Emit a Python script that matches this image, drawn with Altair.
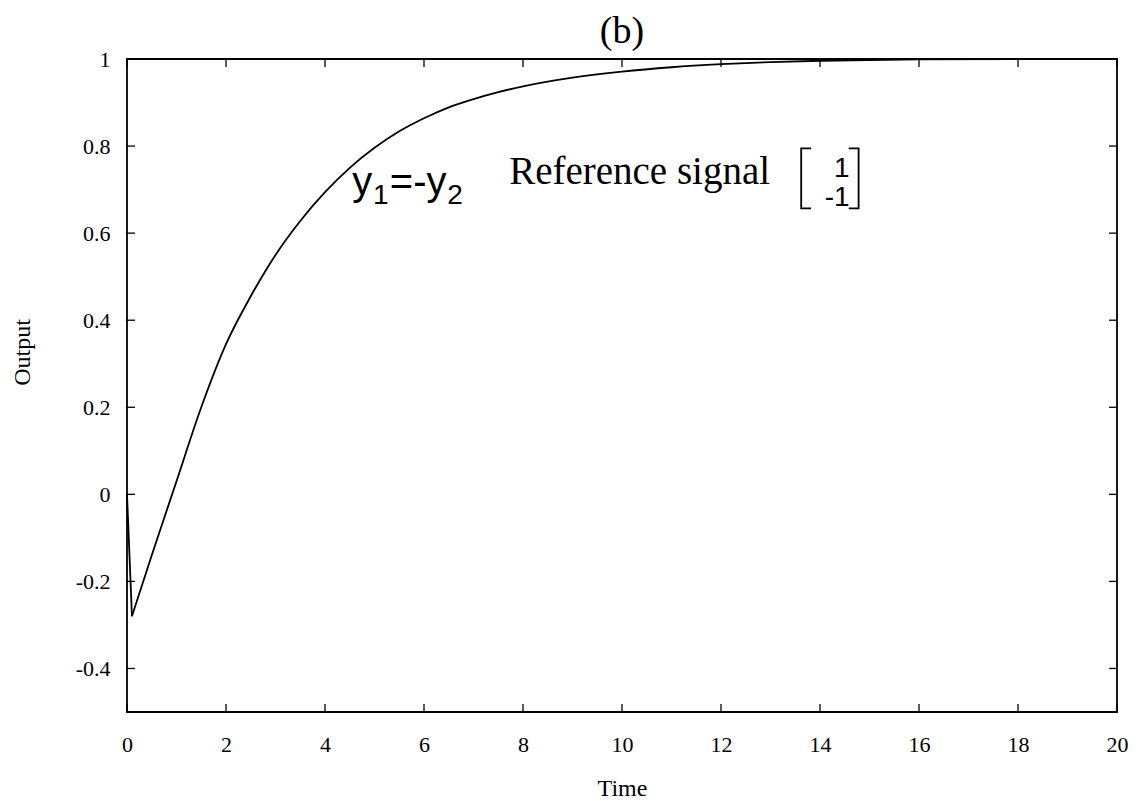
import altair as alt
import pandas as pd

# ---- data ----
time = [0, 0.1, 0.5, 1, 1.5, 2, 2.5, 3, 3.5, 4, 4.5, 5, 5.5, 6, 6.5, 7, 7.5, 8, 9, 10, 11, 12, 13, 14, 16, 18, 20]
output = [0, -0.28, -0.14, 0.03, 0.20, 0.345, 0.455, 0.55, 0.628, 0.694, 0.75, 0.796, 0.834, 0.864,
          0.889, 0.908, 0.924, 0.937, 0.957, 0.971, 0.981, 0.988, 0.993, 0.996, 0.999, 1.0, 1.0]

x_ticks = [0, 2, 4, 6, 8, 10, 12, 14, 16, 18, 20]
y_ticks = [-0.4, -0.2, 0, 0.2, 0.4, 0.6, 0.8, 1]

title_text = "(b)"
x_title = "Time"
y_title = "Output"

# annotation "y1=-y2" (sans pieces)
sans_text = ["y", "1", "=-y", "2"]
sans_t = [4.55, 4.97, 5.31, 6.47]
sans_v = [0.687, 0.666, 0.687, 0.666]
sans_size = [40, 28, 40, 28]

serif_text = ["Reference signal"]
serif_t = [7.72]
serif_v = [0.714]
serif_size = [39]

# matrix entries (right aligned)
mat_text = ["1", "-1"]
mat_t = [14.6, 14.6]
mat_v = [0.729, 0.663]
mat_size = [28, 28]

# matrix brackets
br_piece = ["L", "L", "L", "L", "R", "R", "R", "R"]
br_order = [0, 1, 2, 3, 0, 1, 2, 3]
br_t = [13.82, 13.62, 13.62, 13.82, 14.58, 14.78, 14.78, 14.58]
br_v = [0.7945, 0.7945, 0.6567, 0.6567, 0.7945, 0.7945, 0.6567, 0.6567]

W, H = 990, 653
TICK = 8

xs = alt.Scale(domain=[0, 20], nice=False, zero=False)
ys = alt.Scale(domain=[-0.5, 1], nice=False, zero=False)

x_axis = alt.Axis(values=x_ticks, ticks=False, domain=False, grid=False, labelFlush=False,
                  labelFont="Liberation Serif", labelFontSize=22, labelColor="black",
                  labelPadding=22, title=x_title, titleFont="Liberation Serif",
                  titleFontSize=24, titleFontWeight="normal", titleColor="black",
                  titleY=76, titleBaseline="middle")
y_axis = alt.Axis(values=y_ticks, ticks=False, domain=False, grid=False, labelFlush=False,
                  labelFont="Liberation Serif", labelFontSize=22, labelColor="black",
                  labelPadding=17,
                  labelExpr="replace(format(datum.value, '~g'), '\u2212', '-')",
                  title=y_title, titleFont="Liberation Serif", titleFontSize=24,
                  titleFontWeight="normal", titleColor="black",
                  titleX=-105, titleY=293, titleAngle=270, titleAlign="center",
                  titleBaseline="middle")


def X(f="t"):
    return alt.X(f + ":Q", scale=xs, axis=x_axis)


def Y(f="v"):
    return alt.Y(f + ":Q", scale=ys, axis=y_axis)


df = pd.DataFrame({"t": time, "v": output})
df_a = df[df["t"] <= 0.1]
df_b = df[df["t"] >= 0.1]

line_a = alt.Chart(df_a).mark_line(color="black", strokeWidth=1.8).encode(x=X(), y=Y())
line_b = alt.Chart(df_b).mark_line(color="black", strokeWidth=1.8,
                                   interpolate="monotone").encode(x=X(), y=Y())

xt = pd.DataFrame({"t": x_ticks})
yt = pd.DataFrame({"v": y_ticks})

tick_bottom = alt.Chart(xt).mark_rule(color="black", strokeWidth=1.3).encode(
    x=X(), y=alt.value(H), y2=alt.value(H - TICK))
tick_top = alt.Chart(xt).mark_rule(color="black", strokeWidth=1.3).encode(
    x=X(), y=alt.value(0), y2=alt.value(TICK))
tick_left = alt.Chart(yt).mark_rule(color="black", strokeWidth=1.3).encode(
    y=Y(), x=alt.value(0), x2=alt.value(TICK))
tick_right = alt.Chart(yt).mark_rule(color="black", strokeWidth=1.3).encode(
    y=Y(), x=alt.value(W), x2=alt.value(W - TICK))

sans_df = pd.DataFrame({"txt": sans_text, "t": sans_t, "v": sans_v, "s": sans_size})
serif_df = pd.DataFrame({"txt": serif_text, "t": serif_t, "v": serif_v, "s": serif_size})
mat_df = pd.DataFrame({"txt": mat_text, "t": mat_t, "v": mat_v, "s": mat_size})

sans_layer = alt.Chart(sans_df).mark_text(font="Liberation Sans", align="left",
                                          baseline="alphabetic", color="black").encode(
    x=X(), y=Y(), text="txt:N", size=alt.Size("s:Q", scale=None, legend=None))
serif_layer = alt.Chart(serif_df).mark_text(font="Liberation Serif", align="left",
                                            baseline="alphabetic", color="black").encode(
    x=X(), y=Y(), text="txt:N", size=alt.Size("s:Q", scale=None, legend=None))
mat_layer = alt.Chart(mat_df).mark_text(font="Liberation Sans", align="right",
                                        baseline="alphabetic", color="black").encode(
    x=X(), y=Y(), text="txt:N", size=alt.Size("s:Q", scale=None, legend=None))

br_df = pd.DataFrame({"piece": br_piece, "o": br_order, "t": br_t, "v": br_v})
brackets = alt.Chart(br_df).mark_line(color="black", strokeWidth=1.8).encode(
    x=X(), y=Y(), detail="piece:N", order="o:Q")

chart = alt.layer(line_a, line_b, tick_bottom, tick_top, tick_left, tick_right,
                  sans_layer, serif_layer, mat_layer, brackets).properties(
    width=W, height=H,
    background="white",
    title=alt.TitleParams(title_text, font="Liberation Serif", fontSize=38,
                          fontWeight="normal", color="black", anchor="middle", offset=-3),
    autosize=alt.AutoSizeParams(type="none"),
    padding={"left": 119, "top": 51, "right": 17, "bottom": 90},
).configure_view(stroke="black", strokeWidth=1.8)

chart.save("out.html", embed_options={"renderer": "svg", "actions": False})
